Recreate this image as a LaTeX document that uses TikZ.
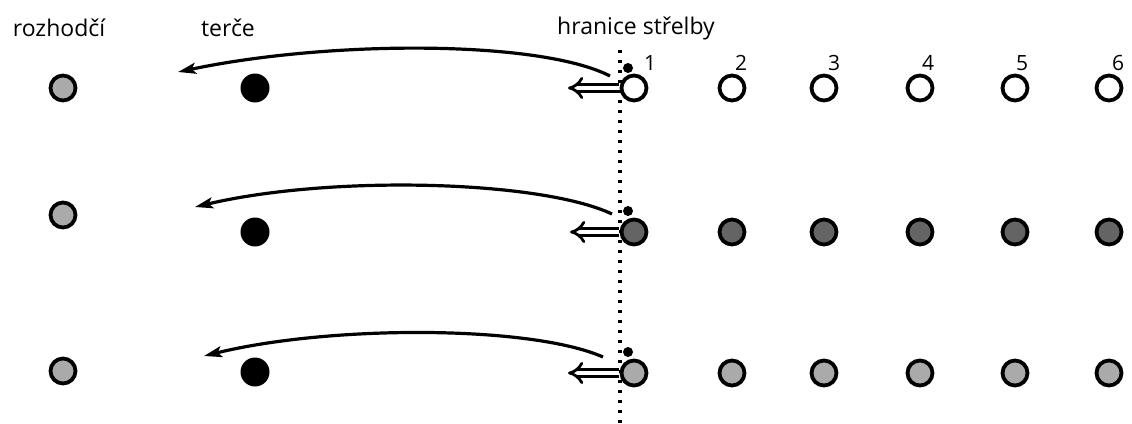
\documentclass[tikz,border=0pt]{standalone}
\usepackage{fontspec}
\setmainfont{Open Sans}
\usetikzlibrary{arrows.meta}
\definecolor{lightg}{HTML}{AAAAAA}
\definecolor{darkg}{HTML}{646464}
\begin{document}
\begin{tikzpicture}[x=1pt,y=-1pt,
  person/.style={circle,draw=black,line width=3.8pt,minimum size=25pt,inner sep=0pt},
  target/.style={circle,fill=black,minimum size=29pt,inner sep=0pt},
  ball/.style={circle,fill=black,minimum size=10pt,inner sep=0pt},
  lab/.style={font=\fontsize{23}{26}\selectfont,inner sep=0pt},
  num/.style={font=\fontsize{21}{24}\selectfont,inner sep=0pt},
  throw/.style={line width=3.2pt,-{Stealth[length=18pt,width=11pt,inset=4pt]}},
  pass/.style={double,double distance=4.5pt,line width=2.8pt,-{Implies[scale=1.6]}}]
\useasboundingbox (0,0) rectangle (1132,423);
% labels
\node[lab] (lr) at (59,28) {rozhodčí};
\node[lab] (lt) at (228,28) {terče};
\node[lab] (lh) at (636,28) {hranice střelby};
% dotted line
\coordinate (dtop) at (620,50);
\coordinate (dbot) at (620,423);
\draw[line width=3.4pt,dash pattern=on 3.4pt off 6.6pt] (dtop) -- (dbot);
% numbers
\foreach \i/\x in {1/650,2/741,3/834,4/928,5/1022,6/1118}{
  \node[num] (n\i) at (\x,63) {\i};
}
% row 1
\node[person,fill=lightg] (r1) at (63,88) {};
\node[target] (t1) at (255,88) {};
\foreach \i/\x in {1/634,2/732,3/824,4/920,5/1015,6/1109}{
  \node[person,fill=white] (p1\i) at (\x,88) {};
}
\node[ball] (b1) at (628,68) {};
% row 2
\node[person,fill=lightg] (r2) at (63,215) {};
\node[target] (t2) at (255,232) {};
\foreach \i/\x in {1/634,2/732,3/824,4/920,5/1015,6/1109}{
  \node[person,fill=darkg] (p2\i) at (\x,232) {};
}
\node[ball] (b2) at (628,211) {};
% row 3
\node[person,fill=lightg] (r3) at (63,371) {};
\node[target] (t3) at (255,372) {};
\foreach \i/\x in {1/634,2/732,3/824,4/920,5/1015,6/1109}{
  \node[person,fill=lightg] (p3\i) at (\x,373) {};
}
\node[ball] (b3) at (628,352) {};
% pass arrows
\coordinate (ps1) at (619,88); \coordinate (pe1) at (568,88);
\coordinate (ps2) at (619,232); \coordinate (pe2) at (570,232);
\coordinate (ps3) at (619,373); \coordinate (pe3) at (568,373);
\draw[pass] (ps1) -- (pe1);
\draw[pass] (ps2) -- (pe2);
\draw[pass] (ps3) -- (pe3);
% throws
\coordinate (s1) at (610,76); \coordinate (e1) at (178,72);
\coordinate (s2) at (612,214); \coordinate (e2) at (195,207);
\coordinate (s3) at (603,357); \coordinate (e3) at (204,356);
\draw[throw] (s1) .. controls (540,40) and (330,40) .. (e1);
\draw[throw] (s2) .. controls (540,180) and (330,175) .. (e2);
\draw[throw] (s3) .. controls (530,325) and (330,325) .. (e3);
\end{tikzpicture}
\end{document}
